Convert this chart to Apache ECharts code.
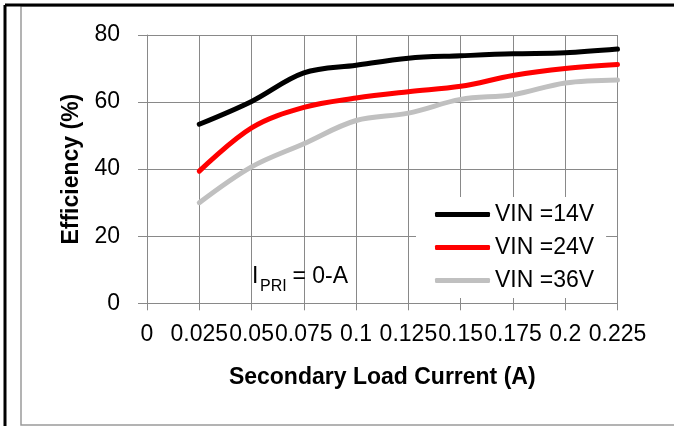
<!DOCTYPE html>
<html>
<head>
<meta charset="utf-8">
<script src="https://cdn.jsdelivr.net/npm/echarts@6/dist/echarts.min.js"></script>
<style>html,body{margin:0;padding:0;background:#fff}#c{width:674px;height:426px}</style>
</head>
<body>
<div id="c"></div>
<script>
const categories = ['0','0.025','0.05','0.075','0.1','0.125','0.15','0.175','0.2','0.225'];
const vin14 = [null, 53.4, 60.2, 68.7, 71.0, 73.1, 73.8, 74.4, 74.7, 75.8];
const vin24 = [null, 39.4, 52.3, 58.4, 61.2, 63.1, 64.7, 67.9, 70.0, 71.2];
const vin36 = [null, 30.0, 40.7, 47.6, 54.5, 56.7, 60.8, 62.2, 65.7, 66.6];
const seriesNames = ['VIN =14V', 'VIN =24V', 'VIN =36V'];
const seriesColors = ['#000000', '#ff0000', '#c0c0c0'];
const yTicks = {min: 0, max: 80, interval: 20};

const FONT = "'Liberation Sans', Arial, sans-serif";
const GRID = '#898989';
const chart = echarts.init(document.getElementById('c'), null, {renderer: 'canvas'});
const mk = (name, data, color) => ({
  name, type: 'line', data, smooth: 0.35, symbol: 'none', connectNulls: false,
  lineStyle: {color, width: 5, cap: 'round'}, itemStyle: {color}
});
chart.setOption({
  backgroundColor: '#fff',
  animation: false,
  textStyle: {fontFamily: FONT},
  grid: {left: 147, top: 35, right: 56.5, bottom: 122.7},
  xAxis: {
    type: 'category', data: categories, boundaryGap: false,
    name: 'Secondary Load Current (A)', nameLocation: 'middle', nameGap: 63,
    nameTextStyle: {fontFamily: FONT, fontSize: 23, fontWeight: 'bold', color: '#000'},
    axisLine: {show: true, lineStyle: {color: GRID, width: 1}},
    axisTick: {show: true, length: 7, interval: 0, lineStyle: {color: GRID}},
    axisLabel: {interval: 0, hideOverlap: false, fontFamily: FONT, fontSize: 23, color: '#000', margin: 20},
    splitLine: {show: true, interval: 0, lineStyle: {color: GRID, width: 1}}
  },
  yAxis: {
    type: 'value', min: yTicks.min, max: yTicks.max, interval: yTicks.interval,
    name: 'Efficiency (%)', nameLocation: 'middle', nameGap: 63, nameRotate: 90,
    nameTextStyle: {fontFamily: FONT, fontSize: 23, fontWeight: 'bold', color: '#000'},
    axisLine: {show: true, lineStyle: {color: GRID, width: 1}},
    axisTick: {show: true, length: 9, lineStyle: {color: GRID}},
    axisLabel: {fontFamily: FONT, fontSize: 23, color: '#000', margin: 27},
    splitLine: {show: true, lineStyle: {color: GRID, width: 1}}
  },
  legend: {
    orient: 'vertical', left: 416, top: 197,
    padding: [6, 12, 6, 19], itemGap: 10,
    backgroundColor: '#ffffff',
    icon: 'roundRect', itemWidth: 55, itemHeight: 5,
    textStyle: {fontFamily: FONT, fontSize: 23, color: '#000', lineHeight: 23},
    data: seriesNames
  },
  series: [
    mk(seriesNames[0], vin14, seriesColors[0]),
    mk(seriesNames[1], vin24, seriesColors[1]),
    mk(seriesNames[2], vin36, seriesColors[2])
  ],
  graphic: [
    {type: 'rect', shape: {x: 21, y: 6, width: 660, height: 419}, style: {fill: 'none', stroke: '#9a9a9a', lineWidth: 1.5}, silent: true, z: 100},
    {type: 'line', shape: {x1: 5, y1: 5, x2: 674, y2: 5}, style: {stroke: '#000', lineWidth: 3}, silent: true, z: 101},
    {type: 'line', shape: {x1: 5, y1: 5, x2: 5, y2: 426}, style: {stroke: '#000', lineWidth: 3}, silent: true, z: 101},
    {type: 'text', x: 252, y: 277, style: {text: 'I', fontFamily: FONT, fontSize: 23, fill: '#000', verticalAlign: 'middle'}, z: 50},
    {type: 'text', x: 260, y: 287, style: {text: 'PRI', fontFamily: FONT, fontSize: 16, fill: '#000', verticalAlign: 'middle'}, z: 50},
    {type: 'text', x: 286, y: 277, style: {text: ' = 0-A', fontFamily: FONT, fontSize: 23, fill: '#000', verticalAlign: 'middle'}, z: 50}
  ]
});
</script>
</body>
</html>
